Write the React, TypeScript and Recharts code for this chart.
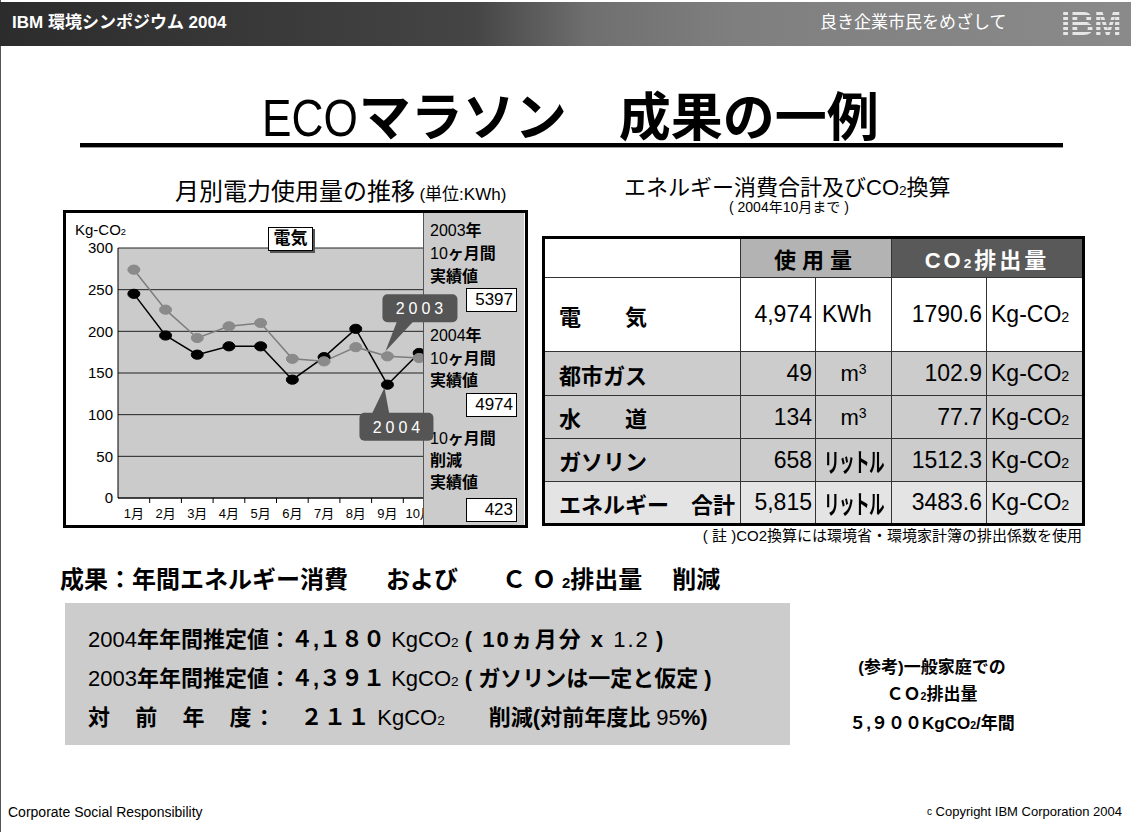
import React from 'react';
import { LineChart, Line, XAxis, YAxis, CartesianGrid, ReferenceDot } from 'recharts';

const months = ['1月', '2月', '3月', '4月', '5月', '6月', '7月', '8月', '9月', '10月'];
const co2In2004 = [245, 195, 172, 182, 182, 142, 169, 203, 136, 174];
const co2In2003 = [274, 226, 192, 206, 210, 167, 164, 181, 170, 168];
const yTicks = [0, 50, 100, 150, 200, 250, 300];

const panelTotals = [5397, 4974, 423];

const itemNames = ['電　　気', '都市ガス', '水　　道', 'ガソリン', 'エネルギー　合計'];
const usageValues = ['4,974', '49', '134', '658', '5,815'];
const usageUnits = ['KWh', 'm3', 'm3', 'リットル', 'リットル'];
const co2Values = ['1790.6', '102.9', '77.7', '1512.3', '3483.6'];

const chartData = months.map((m, i) => ({ month: m, y2004: co2In2004[i], y2003: co2In2003[i] }));

const LATIN = "'Liberation Sans', 'Noto Sans CJK JP', sans-serif";

// chart box geometry (page coords)
const CH_W = 465;
const CH_H = 318;
const CH_MARGIN = { top: 38, right: 93, bottom: 5, left: 10 };

function MonthTick(props: any) {
  const { x, y, payload } = props;
  const half = payload && payload.offset ? payload.offset : 15.85;
  return (
    <g>
      <line x1={x + half} y1={y} x2={x + half} y2={y + 5} stroke="#000" strokeWidth={1} />
      <text x={x} y={y + 20} textAnchor="middle" fontSize={13} fill="#000" fontFamily={LATIN}>
        {payload.value}
      </text>
    </g>
  );
}

function ellipseDot(fill: string) {
  return (p: any) => (
    <ellipse key={`d-${p.index}`} cx={p.cx} cy={p.cy} rx={6} ry={4.6} fill={fill} stroke={fill} />
  );
}

function Callout2003(p: any) {
  const { cx, cy } = p;
  if (cx == null || cy == null) return null;
  return (
    <g>
      <polygon points={`${cx + 10},${cy - 36} ${cx + 27},${cy - 36} ${cx - 2},${cy - 5}`} fill="#555" />
      <rect x={cx - 5} y={cy - 62} width={75} height={28} rx={5} fill="#555" />
      <text x={cx + 34} y={cy - 42} textAnchor="middle" fill="#fff" fontSize={16} letterSpacing={4} fontFamily={LATIN}>
        2003
      </text>
    </g>
  );
}

function Callout2004(p: any) {
  const { cx, cy } = p;
  if (cx == null || cy == null) return null;
  return (
    <g>
      <polygon points={`${cx - 16},${cy + 30} ${cx + 2},${cy + 30} ${cx - 3},${cy + 3}`} fill="#555" />
      <rect x={cx - 28} y={cy + 28} width={74} height={28} rx={5} fill="#555" />
      <text x={cx + 11} y={cy + 48} textAnchor="middle" fill="#fff" fontSize={16} letterSpacing={4} fontFamily={LATIN}>
        2004
      </text>
    </g>
  );
}

const abs = (l: number, t: number, extra: React.CSSProperties = {}): React.CSSProperties => ({
  position: 'absolute',
  left: l,
  top: t,
  ...extra,
});

const Sub = ({ children }: { children: React.ReactNode }) => (
  <span style={{ fontSize: '0.62em' }}>{children}</span>
);

function PanelLabel({ top, first, rest }: { top: number; first: string; rest: string }) {
  return (
    <div style={abs(430, top, { fontSize: 16, lineHeight: '18px', whiteSpace: 'nowrap' })}>
      <span>{first}</span>
      <span style={{ fontWeight: 'bold' }}>{rest}</span>
    </div>
  );
}

function PanelBox({ top, value }: { top: number; value: number }) {
  return (
    <div
      style={abs(466, top, {
        width: 51,
        height: 24,
        boxSizing: 'border-box',
        background: '#fff',
        border: '1px solid #000',
        fontSize: 17,
        lineHeight: '22px',
        textAlign: 'right',
        paddingRight: 3,
      })}
    >
      {value}
    </div>
  );
}

function ElectricChart() {
  return (
    <>
      <div style={abs(63, 210, { width: CH_W, height: CH_H })}>
        <LineChart width={CH_W} height={CH_H} data={chartData} margin={CH_MARGIN}>
          <CartesianGrid vertical={false} stroke="#222" fill="#cbcbcb" fillOpacity={1} />
          <XAxis
            dataKey="month"
            scale="band"
            stroke="#000"
            tickLine={false}
            tickSize={0}
            tickMargin={0}
            height={25}
            interval={0}
            tick={<MonthTick />}
          />
          <YAxis
            domain={[0, 300]}
            ticks={yTicks}
            interval={0}
            width={45}
            stroke="#000"
            tickLine={false}
            tickSize={0}
            tickMargin={5}
            tick={{ fill: '#000', fontSize: 15, fontFamily: LATIN }}
          />
          <Line
            dataKey="y2004"
            stroke="#000"
            strokeWidth={1.5}
            dot={ellipseDot('#000')}
            isAnimationActive={false}
          />
          <Line
            dataKey="y2003"
            stroke="#7d7d7d"
            strokeWidth={1.5}
            dot={ellipseDot('#8a8a8a')}
            isAnimationActive={false}
          />
        </LineChart>
      </div>

      {/* right summary panel */}
      <div
        style={abs(423, 213, {
          width: 101,
          height: 312,
          background: '#cbcbcb',
          borderLeft: '1px solid #555',
          boxSizing: 'border-box',
        })}
      />
      <PanelLabel top={222} first="2003" rest="年" />
      <PanelLabel top={245} first="10" rest="ヶ月間" />
      <PanelLabel top={268} first="" rest="実績値" />
      <PanelBox top={288} value={panelTotals[0]} />
      <PanelLabel top={327} first="2004" rest="年" />
      <PanelLabel top={350} first="10" rest="ヶ月間" />
      <PanelLabel top={372} first="" rest="実績値" />
      <PanelBox top={393} value={panelTotals[1]} />
      <PanelLabel top={430} first="10" rest="ヶ月間" />
      <PanelLabel top={452} first="" rest="削減" />
      <PanelLabel top={474} first="" rest="実績値" />
      <PanelBox top={498} value={panelTotals[2]} />

      {/* overlay for callouts, same geometry as the chart */}
      <div style={abs(63, 210, { width: CH_W, height: CH_H, pointerEvents: 'none' })}>
        <LineChart width={CH_W} height={CH_H} data={chartData} margin={CH_MARGIN}>
          <XAxis dataKey="month" scale="band" height={25} interval={0} tick={false} axisLine={false} tickLine={false} />
          <YAxis domain={[0, 300]} ticks={yTicks} width={45} tick={false} axisLine={false} tickLine={false} />
          <Line dataKey="y2004" stroke="none" dot={false} activeDot={false} isAnimationActive={false} />
          <Line dataKey="y2003" stroke="none" dot={false} activeDot={false} isAnimationActive={false} />
          <ReferenceDot x={months[8]} y={co2In2003[8]} r={1} shape={(p: any) => <Callout2003 {...p} />} ifOverflow="visible" />
          <ReferenceDot x={months[8]} y={co2In2004[8]} r={1} shape={(p: any) => <Callout2004 {...p} />} ifOverflow="visible" />
        </LineChart>
      </div>

      {/* frame */}
      <div
        style={abs(63, 210, {
          width: CH_W,
          height: CH_H,
          border: '3px solid #000',
          boxSizing: 'border-box',
          pointerEvents: 'none',
        })}
      />
      <div style={abs(75, 222, { fontSize: 15, lineHeight: '15px' })}>
        Kg-CO<Sub>2</Sub>
      </div>
      <div
        style={abs(268, 227, {
          width: 45,
          height: 24,
          boxSizing: 'border-box',
          background: '#fff',
          border: '1px solid #000',
          boxShadow: '2px 2px 0 #555',
          fontSize: 17,
          fontWeight: 'bold',
          lineHeight: '22px',
          textAlign: 'center',
        })}
      >
        電気
      </div>
    </>
  );
}

const cellBorder = '1px solid #333';

function EnergyTable() {
  const rowBg = ['#ffffff', '#cccccc', '#cccccc', '#cccccc', '#e4e4e4'];
  const rowH = [74, 44, 43, 43, 43];
  const td = (extra: React.CSSProperties): React.CSSProperties => ({
    border: cellBorder,
    padding: 0,
    overflow: 'hidden',
    whiteSpace: 'nowrap',
    ...extra,
  });
  const unitCell = (u: string) => {
    if (u === 'm3') {
      return (
        <span style={{ fontSize: 22 }}>
          m<span style={{ fontSize: 14, verticalAlign: 'top', position: 'relative', top: 1 }}>3</span>
        </span>
      );
    }
    if (u === 'リットル') {
      return (
        <span
          style={{
            display: 'inline-block',
            fontWeight: 'bold',
            fontSize: 26,
            transform: 'scaleX(0.6)',
            letterSpacing: -1,
            margin: '0 -30px',
          }}
        >
          {u}
        </span>
      );
    }
    return u;
  };
  return (
    <table
      style={{
        position: 'absolute',
        left: 542,
        top: 236,
        width: 540,
        height: 287,
        borderCollapse: 'collapse',
        tableLayout: 'fixed',
        border: '3px solid #000',
        fontFamily: LATIN,
        color: '#000',
      }}
    >
      <colgroup>
        <col style={{ width: 197 }} />
        <col style={{ width: 75 }} />
        <col style={{ width: 76 }} />
        <col style={{ width: 95 }} />
        <col style={{ width: 97 }} />
      </colgroup>
      <tbody>
        <tr style={{ height: 40 }}>
          <td style={td({ background: '#fff' })} />
          <td
            colSpan={2}
            style={td({ background: '#b3b3b3', textAlign: 'center', fontWeight: 'bold', fontSize: 22, letterSpacing: 6 })}
          >
            使用量
          </td>
          <td
            colSpan={2}
            style={td({ background: '#595959', color: '#fff', textAlign: 'center', fontWeight: 'bold', fontSize: 22, letterSpacing: 3 })}
          >
            CO<Sub>2</Sub>排出量
          </td>
        </tr>
        {itemNames.map((name, i) => (
          <tr key={name} style={{ height: rowH[i], background: rowBg[i] }}>
            <td style={td({ fontWeight: 'bold', fontSize: 22, paddingLeft: 14 })}>{name}</td>
            <td style={td({ textAlign: 'right', fontSize: 23, paddingRight: 3 })}>{usageValues[i]}</td>
            <td
              style={td({
                textAlign: usageUnits[i] === 'KWh' ? 'left' : 'center',
                fontSize: 23,
                paddingLeft: usageUnits[i] === 'KWh' ? 6 : 0,
              })}
            >
              {unitCell(usageUnits[i])}
            </td>
            <td style={td({ textAlign: 'right', fontSize: 23, paddingRight: 4 })}>{co2Values[i]}</td>
            <td style={td({ fontSize: 23, paddingLeft: 4 })}>
              Kg-CO<Sub>2</Sub>
            </td>
          </tr>
        ))}
      </tbody>
    </table>
  );
}

const lineStyle: React.CSSProperties = { fontSize: 22, lineHeight: '26px', whiteSpace: 'nowrap' };

export default function App() {
  return (
    <div
      style={{
        position: 'absolute',
        left: 0,
        top: 0,
        width: 1131,
        height: 832,
        background: '#fff',
        overflow: 'hidden',
        fontFamily: LATIN,
        color: '#000',
      }}
    >
      <div style={abs(0, 0, { width: 1, height: 832, background: '#555' })} />

      {/* header bar */}
      <div
        style={abs(0, 2, {
          width: 1131,
          height: 44,
          background:
            'linear-gradient(90deg, #2c2c2c 0%, #3a3a3a 25%, #454545 42%, #6f6f6f 52%, #7f7f7f 65%, #8a8a8a 100%)',
        })}
      />
      <div
        style={abs(12, 13, {
          color: '#fff',
          fontSize: 17,
          fontWeight: 'bold',
          lineHeight: '20px',
          whiteSpace: 'nowrap',
        })}
      >
        IBM 環境シンポジウム 2004
      </div>
      <div style={abs(820, 13, { color: '#fff', fontSize: 17, lineHeight: '20px', whiteSpace: 'nowrap' })}>
        良き企業市民をめざして
      </div>
      <div
        style={abs(1061, 7, {
          fontSize: 33,
          fontWeight: 'bold',
          lineHeight: '34px',
          fontFamily: "'Liberation Sans', sans-serif",
          letterSpacing: 0,
          color: 'transparent',
          backgroundImage:
            'repeating-linear-gradient(180deg, #e6e6e6 0px, #e6e6e6 3px, transparent 3px, transparent 5px)',
          WebkitBackgroundClip: 'text',
          backgroundClip: 'text',
        })}
      >
        IBM
      </div>

      {/* title */}
      <div style={abs(262, 88, { fontSize: 52, lineHeight: '52px', whiteSpace: 'nowrap' })}>
        <span style={{ display: 'inline-block', transform: 'scaleX(0.85)', transformOrigin: 'left', marginRight: -16 }}>
          ECO
        </span>
        <span style={{ fontWeight: 'bold', fontFamily: "'Noto Sans CJK JP', sans-serif" }}>マラソン　成果の一例</span>
      </div>
      <div style={abs(80, 143, { width: 983, height: 4, background: '#000', borderBottom: '1px solid #999' })} />

      {/* left chart title */}
      <div style={abs(175, 179, { whiteSpace: 'nowrap', lineHeight: '26px' })}>
        <span style={{ fontSize: 24 }}>月別電力使用量の推移</span>{' '}
        <span style={{ fontSize: 17 }}>(単位:KWh)</span>
      </div>

      <ElectricChart />

      {/* right table titles */}
      <div style={abs(624, 176, { fontSize: 22, lineHeight: '24px', whiteSpace: 'nowrap' })}>
        エネルギー消費合計及びCO<Sub>2</Sub>換算
      </div>
      <div style={abs(729, 199, { fontSize: 14, lineHeight: '16px', whiteSpace: 'nowrap' })}>
        ( 2004年10月まで )
      </div>

      <EnergyTable />

      <div
        style={abs(582, 527, {
          width: 500,
          textAlign: 'right',
          fontSize: 15,
          lineHeight: '17px',
          whiteSpace: 'nowrap',
        })}
      >
        ( 註 )CO2換算には環境省・環境家計簿の排出係数を使用
      </div>

      {/* results */}
      <div style={abs(60, 565, { fontSize: 24, fontWeight: 'bold', lineHeight: '30px', whiteSpace: 'nowrap' })}>
        成果：年間エネルギー消費
        <span style={{ marginLeft: 38 }}>および</span>
        <span style={{ marginLeft: 44, letterSpacing: 6 }}>ＣＯ</span>
        <Sub>2</Sub>排出量
        <span style={{ marginLeft: 30 }}>削減</span>
      </div>
      <div style={abs(65, 603, { width: 725, height: 142, background: '#cccccc' })} />
      <div style={abs(88, 627, lineStyle)}>
        2004<b>年年間推定値：４,１８０</b> KgCO<Sub>2</Sub>{' '}
        <b style={{ letterSpacing: 2 }}>( 10ヵ月分 x </b>
        <span style={{ letterSpacing: 2 }}>1.2</span>
        <b> )</b>
      </div>
      <div style={abs(88, 666, lineStyle)}>
        2003<b>年年間推定値：４,３９１</b> KgCO<Sub>2</Sub> <b>( ガソリンは一定と仮定 )</b>
      </div>
      <div style={abs(88, 705, lineStyle)}>
        <b style={{ letterSpacing: 1.6 }}>対　前　年　度：　２１１</b> KgCO<Sub>2</Sub>
        <b style={{ marginLeft: 44 }}>削減(対前年度比</b> 95<b>%)</b>
      </div>

      <div
        style={abs(832, 654, {
          width: 200,
          textAlign: 'center',
          fontSize: 17,
          fontWeight: 'bold',
          lineHeight: '27px',
          whiteSpace: 'nowrap',
        })}
      >
        <div>(参考)一般家庭での</div>
        <div>
          ＣＯ<Sub>2</Sub>排出量
        </div>
        <div>
          ５,９００KgCO<Sub>2</Sub>/年間
        </div>
      </div>

      {/* footer */}
      <div style={abs(8, 804, { fontSize: 14, lineHeight: '16px', whiteSpace: 'nowrap' })}>
        Corporate Social Responsibility
      </div>
      <div
        style={abs(822, 804, { width: 300, textAlign: 'right', fontSize: 13, lineHeight: '16px', whiteSpace: 'nowrap' })}
      >
        <span style={{ fontSize: 10, verticalAlign: 'top' }}>c</span> Copyright IBM Corporation 2004
      </div>
    </div>
  );
}
